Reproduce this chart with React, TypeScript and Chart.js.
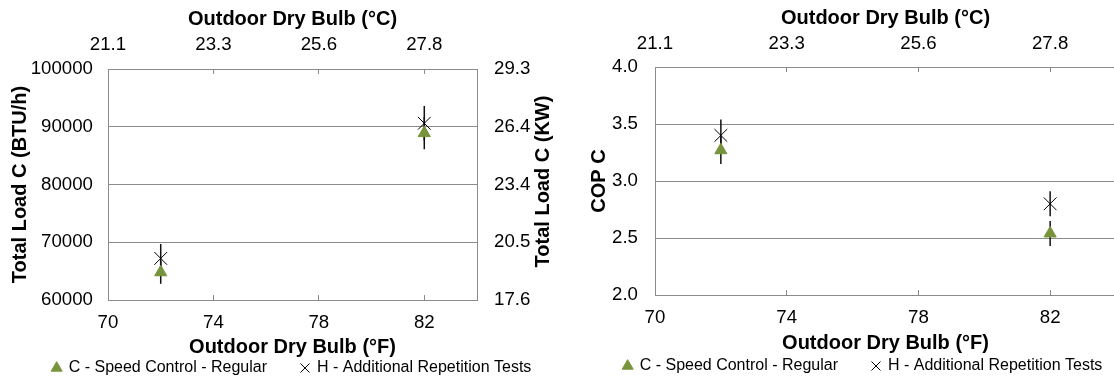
import React, { useEffect, useRef } from 'react';
import { Chart, registerables } from 'chart.js';

Chart.register(...registerables);

const FONT = "'Liberation Sans', Arial, Helvetica, sans-serif";
const GRID = '#8b8b8b';
const GREEN = '#77933C';

// ---- data ----
const outdoorF = [72, 82];
const loadC = [64800, 88900];
const loadCErr = [2000, 2800];
const loadH = [67200, 90600];
const loadHErr = [2500, 3000];
const copC = [3.27, 2.54];
const copCErr = [0.12, 0.11];
const copH = [3.4, 2.8];
const copHErr = [0.14, 0.11];

// ---- ticks / labels ----
const fahrenheitTicks = [70, 74, 78, 82];
const celsiusTickLabels = ['21.1', '23.3', '25.6', '27.8'];
const loadTickLabels = ['60000', '70000', '80000', '90000', '100000'];
const kwTickLabels = ['17.6', '20.5', '23.4', '26.4', '29.3'];
const copTickLabels = ['2.0', '2.5', '3.0', '3.5', '4.0'];
const seriesLabels = ['C - Speed Control - Regular', 'H - Additional Repetition Tests'];
const xTitleF = 'Outdoor Dry Bulb (°F)';
const xTitleC = 'Outdoor Dry Bulb (°C)';
const loadTitle = 'Total Load C (BTU/h)';
const kwTitle = 'Total Load C (KW)';
const copTitle = 'COP C';

function markerSets(cVals: number[], hVals: number[]) {
  return [
    {
      label: seriesLabels[0],
      data: outdoorF.map((x, i) => ({ x, y: cVals[i] })),
      pointStyle: 'triangle',
      pointRadius: 7,
      backgroundColor: GREEN,
      borderColor: GREEN,
      borderWidth: 1,
      order: 1,
    },
    {
      label: seriesLabels[1],
      data: outdoorF.map((x, i) => ({ x, y: hVals[i] })),
      pointStyle: 'crossRot',
      pointRadius: 9,
      backgroundColor: '#000',
      borderColor: '#000',
      borderWidth: 1,
      order: 0,
    },
  ];
}

function errorBarSets(vals: number[], errs: number[]) {
  return outdoorF.map((x, i) => ({
    label: '',
    data: [
      { x, y: vals[i] - errs[i] },
      { x, y: vals[i] + errs[i] },
    ],
    showLine: true,
    borderColor: '#111',
    borderWidth: 1.5,
    pointRadius: 0,
    pointHoverRadius: 0,
    order: 2,
  }));
}

const tickFont = { family: FONT, size: 18.67 };
const titleFont = { family: FONT, size: 20, weight: 'bold' as const };

const setTicks = (scale: any) => {
  scale.ticks = fahrenheitTicks.map((v) => ({ value: v }));
};

type Panel = {
  padLeft: number;
  yWidth: number;
  y2Width: number;
  y2Visible: boolean;
  topH: number;
  bottomH: number;
  topLabelPad: number;
  bottomLabelPad: number;
  topTitlePad: number;
  bottomTitlePad: number;
  yTitlePad: number;
  yLabelPad: number;
  legendShift: number;
  yMin: number;
  yMax: number;
  yStep: number;
  yLabels: string[];
  yTitle: string;
  datasets: any[];
};

function buildConfig(p: Panel, extraPlugins: any[]) {
  const scales: any = {
    x: {
      type: 'linear',
      position: 'bottom',
      min: 70,
      max: 84,
      afterBuildTicks: setTicks,
      afterFit: (s: any) => {
        s.height = p.bottomH;
      },
      ticks: { font: tickFont, color: '#000', padding: p.bottomLabelPad, maxRotation: 0 },
      grid: { drawOnChartArea: false, drawTicks: true, tickLength: -5, color: GRID },
      border: { color: GRID, width: 1 },
      title: {
        display: true,
        text: xTitleF,
        font: titleFont,
        color: '#000',
        padding: { top: 0, bottom: p.bottomTitlePad },
      },
    },
    x2: {
      type: 'linear',
      position: 'top',
      min: 70,
      max: 84,
      afterBuildTicks: setTicks,
      afterFit: (s: any) => {
        s.height = p.topH;
      },
      ticks: {
        font: tickFont,
        color: '#000',
        padding: p.topLabelPad,
        maxRotation: 0,
        callback: (_v: any, i: number) => celsiusTickLabels[i],
      },
      grid: { drawOnChartArea: false, drawTicks: true, tickLength: -5, color: GRID },
      border: { color: GRID, width: 1 },
      title: {
        display: true,
        text: xTitleC,
        font: titleFont,
        color: '#000',
        padding: { top: p.topTitlePad, bottom: 0 },
      },
    },
    y: {
      type: 'linear',
      position: 'left',
      min: p.yMin,
      max: p.yMax,
      afterFit: (s: any) => {
        s.width = p.yWidth;
      },
      ticks: {
        stepSize: p.yStep,
        font: tickFont,
        color: '#000',
        padding: p.yLabelPad,
        callback: (_v: any, i: number) => p.yLabels[i],
      },
      grid: { color: GRID, drawTicks: false },
      border: { color: GRID, width: 1 },
      title: {
        display: true,
        text: p.yTitle,
        font: titleFont,
        color: '#000',
        padding: { top: p.yTitlePad, bottom: 0 },
      },
    },
    y2: {
      type: 'linear',
      position: 'right',
      min: p.yMin,
      max: p.yMax,
      afterFit: (s: any) => {
        s.width = p.y2Width;
      },
      ticks: {
        display: p.y2Visible,
        stepSize: p.yStep,
        font: tickFont,
        color: '#000',
        padding: 17,
        callback: (_v: any, i: number) => kwTickLabels[i],
      },
      grid: { display: p.y2Visible, drawOnChartArea: false, drawTicks: false, color: GRID },
      border: { display: p.y2Visible, color: GRID, width: 1 },
    },
  };
  const legendShiftPlugin = {
    id: 'legendShift',
    afterLayout(chart: any) {
      const lg = chart.legend;
      if (!lg) return;
      lg.top += p.legendShift;
      lg.bottom = chart.height;
      lg.height = lg.bottom - lg.top;
    },
  };
  return {
    type: 'scatter' as const,
    data: { datasets: p.datasets },
    options: {
      responsive: false,
      animation: false as const,
      events: [],
      layout: { padding: { left: p.padLeft, right: 0, top: 0, bottom: 0 } },
      elements: { line: { tension: 0 } },
      scales,
      plugins: {
        tooltip: { enabled: false },
        legend: {
          display: true,
          position: 'bottom' as const,
          maxHeight: 48,
          labels: {
            filter: (item: any) => item.datasetIndex < 2,
            sort: (a: any, b: any) => a.datasetIndex - b.datasetIndex,
            usePointStyle: true,
            boxWidth: 8,
            boxHeight: 9,
            padding: 34,
            color: '#000',
            font: { family: FONT, size: 16 },
          },
        },
      },
    },
    plugins: [legendShiftPlugin, ...extraPlugins],
  };
}

const rightTitlePlugin = {
  id: 'rightTitle',
  afterDraw(chart: any) {
    const { ctx, chartArea } = chart;
    const s = chart.scales.y2;
    if (!s) return;
    ctx.save();
    ctx.translate(s.left + 66, (chartArea.top + chartArea.bottom) / 2 - 3);
    ctx.rotate(-Math.PI / 2);
    ctx.font = `bold 20px ${FONT}`;
    ctx.fillStyle = '#000';
    ctx.textAlign = 'center';
    ctx.textBaseline = 'middle';
    ctx.fillText(kwTitle, 0, 0);
    ctx.restore();
  },
};

function ChartCanvas({ config, left, width }: { config: any; left: number; width: number }) {
  const ref = useRef<HTMLCanvasElement | null>(null);
  useEffect(() => {
    if (!ref.current) return;
    const chart = new Chart(ref.current, config);
    return () => chart.destroy();
  }, [config]);
  return (
    <canvas
      ref={ref}
      width={width}
      height={384}
      style={{ position: 'absolute', left, top: 0, width, height: 384 }}
    />
  );
}

const leftConfig = buildConfig(
  {
    padLeft: 16,
    yWidth: 92,
    y2Width: 91,
    y2Visible: true,
    topH: 69,
    bottomH: 36,
    topLabelPad: 18,
    bottomLabelPad: 17,
    topTitlePad: 7,
    bottomTitlePad: -23,
    yTitlePad: -8,
    yLabelPad: 15,
    legendShift: -10,
    yMin: 60000,
    yMax: 100000,
    yStep: 10000,
    yLabels: loadTickLabels,
    yTitle: loadTitle,
    datasets: [...markerSets(loadC, loadH), ...errorBarSets(loadC, loadCErr), ...errorBarSets(loadH, loadHErr)],
  },
  [rightTitlePlugin]
);

const rightConfig = buildConfig(
  {
    padLeft: 27,
    yWidth: 68,
    y2Width: 23,
    y2Visible: false,
    topH: 67,
    bottomH: 41,
    topLabelPad: 17,
    bottomLabelPad: 17,
    topTitlePad: 6,
    bottomTitlePad: -19,
    yTitlePad: 0,
    yLabelPad: 17,
    legendShift: -12,
    yMin: 2,
    yMax: 4,
    yStep: 0.5,
    yLabels: copTickLabels,
    yTitle: copTitle,
    datasets: [...markerSets(copC, copH), ...errorBarSets(copC, copCErr), ...errorBarSets(copH, copHErr)],
  },
  []
);

export default function App() {
  return (
    <div
      style={{
        position: 'fixed',
        left: 0,
        top: 0,
        width: 1114,
        height: 384,
        overflow: 'hidden',
        background: '#fff',
      }}
    >
      <ChartCanvas config={leftConfig} left={0} width={568} />
      <ChartCanvas config={rightConfig} left={560} width={579} />
    </div>
  );
}
